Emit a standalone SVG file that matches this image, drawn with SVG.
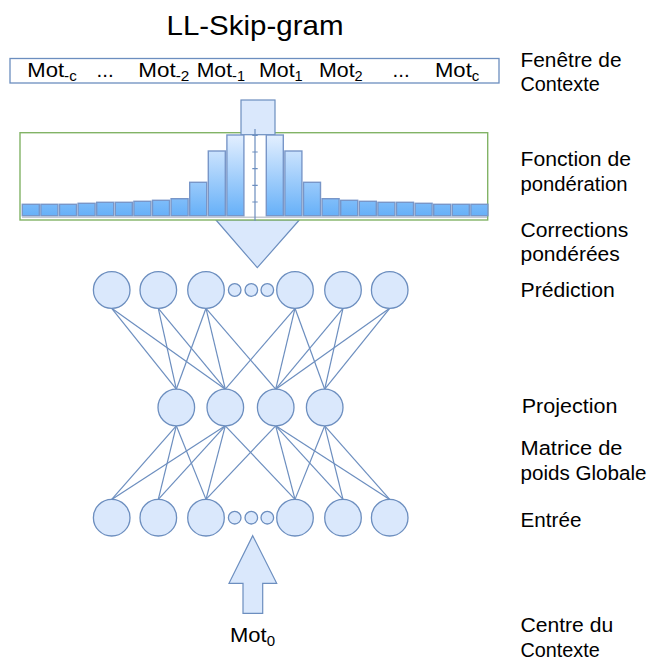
<svg xmlns="http://www.w3.org/2000/svg" width="652" height="660" viewBox="0 0 652 660">
  <style>
    text { font-family: "Liberation Sans", Arial, Helvetica, sans-serif; fill: #000; }
    .title { font-size: 28px; }
    .word { font-size: 20.5px; }
    .sub { font-size: 14px; }
    .label { font-size: 20.5px; }
    .node { fill: #dae8fc; stroke: #6c8ebf; stroke-width: 1.3; }
    .shape { fill: #dae8fc; stroke: #6c8ebf; stroke-width: 1.2; }
    .edge { stroke: #6c8ebf; stroke-width: 1.2; fill: none; }
    .bar { fill: url(#barFill); stroke: #7896c8; stroke-width: 1.4; }
    .axis { stroke: #6c8ebf; stroke-width: 1.2; fill: none; }
  </style>
  <defs>
    <linearGradient id="barFill" gradientUnits="userSpaceOnUse" x1="0" y1="135" x2="0" y2="216">
      <stop offset="0" stop-color="#e3efff"/>
      <stop offset="1" stop-color="#66b0f8"/>
    </linearGradient>
  </defs>

  <rect width="652" height="660" fill="#fff"/>

  <!-- title -->
  <text class="title" x="166.5" y="35" textLength="177" lengthAdjust="spacingAndGlyphs">LL-Skip-gram</text>

  <!-- context window -->
  <g id="context-window">
    <rect x="10" y="58.5" width="489" height="24.5" fill="#fff" stroke="#6c8ebf" stroke-width="1.3"/>
    <text class="word" x="27.3" y="76.5" textLength="49.4" lengthAdjust="spacingAndGlyphs">Mot<tspan class="sub" dy="4">-c</tspan></text>
    <text class="word" x="96.5" y="76.5">...</text>
    <text class="word" x="138.3" y="76.5" textLength="51" lengthAdjust="spacingAndGlyphs">Mot<tspan class="sub" dy="4">-2</tspan></text>
    <text class="word" x="196.7" y="76.5" textLength="48.3" lengthAdjust="spacingAndGlyphs">Mot<tspan class="sub" dy="4">-1</tspan></text>
    <text class="word" x="259" y="76.5" textLength="43.7" lengthAdjust="spacingAndGlyphs">Mot<tspan class="sub" dy="4">1</tspan></text>
    <text class="word" x="319" y="76.5" textLength="43.7" lengthAdjust="spacingAndGlyphs">Mot<tspan class="sub" dy="4">2</tspan></text>
    <text class="word" x="392.5" y="76.5">...</text>
    <text class="word" x="435" y="76.5" textLength="44.3" lengthAdjust="spacingAndGlyphs">Mot<tspan class="sub" dy="4">c</tspan></text>
  </g>

  <!-- downward arrow head below the weighting chart -->
  <polygon id="weighted-arrow" class="shape" points="216,220 299.3,220 257.3,267.7"/>

  <!-- weighting function chart -->
  <g id="weighting">
    <rect x="20" y="132.7" width="467.7" height="87.3" fill="#fff" stroke="#82b366" stroke-width="1.4"/>
    <rect id="window-stem" class="shape" x="241" y="100" width="34" height="34.7"/>
    <line x1="22" y1="217.3" x2="487" y2="217.3" stroke="#c4c9d2" stroke-width="1.6"/>
    <g>
      <rect class="bar" x="22.3" y="204.3" width="17" height="11.4"/>
      <rect class="bar" x="40.9" y="204.3" width="17" height="11.4"/>
      <rect class="bar" x="59.5" y="204.3" width="17" height="11.4"/>
      <rect class="bar" x="78.1" y="203.3" width="17" height="12.4"/>
      <rect class="bar" x="96.7" y="202.3" width="17" height="13.4"/>
      <rect class="bar" x="115.3" y="202.3" width="17" height="13.4"/>
      <rect class="bar" x="133.9" y="201.3" width="17" height="14.4"/>
      <rect class="bar" x="152.5" y="200.3" width="17" height="15.4"/>
      <rect class="bar" x="171.1" y="198.7" width="17" height="17"/>
      <rect class="bar" x="189.7" y="182.3" width="17" height="33.4"/>
      <rect class="bar" x="208.3" y="151" width="17" height="64.7"/>
      <rect class="bar" x="226.9" y="135" width="17" height="80.7"/>
      <rect class="bar" x="266.3" y="135" width="17" height="80.7"/>
      <rect class="bar" x="284.9" y="151" width="17" height="64.7"/>
      <rect class="bar" x="303.5" y="182.3" width="17" height="33.4"/>
      <rect class="bar" x="322.1" y="198.7" width="17" height="17"/>
      <rect class="bar" x="340.7" y="200.3" width="17" height="15.4"/>
      <rect class="bar" x="359.3" y="201.3" width="17" height="14.4"/>
      <rect class="bar" x="377.9" y="202.3" width="17" height="13.4"/>
      <rect class="bar" x="396.5" y="202.3" width="17" height="13.4"/>
      <rect class="bar" x="415.1" y="203.3" width="17" height="12.4"/>
      <rect class="bar" x="433.7" y="204.3" width="17" height="11.4"/>
      <rect class="bar" x="452.3" y="204.3" width="17" height="11.4"/>
      <rect class="bar" x="470.9" y="204.3" width="17" height="11.4"/>
    </g>
    <path class="axis" d="M255 129V220.7M252.3 135.3h5.4M252.3 152h5.4M252.3 168.7h5.4M252.3 185.3h5.4M252.3 202h5.4"/>
  </g>

  <!-- connectors -->
  <g id="connectors" class="edge">
    <!-- prediction layer to projection layer -->
    <line x1="111.7" y1="308.3" x2="176.3" y2="389.2"/>
    <line x1="111.7" y1="308.3" x2="225.3" y2="389.2"/>
    <line x1="158.3" y1="308.3" x2="176.3" y2="389.2"/>
    <line x1="158.3" y1="308.3" x2="225.3" y2="389.2"/>
    <line x1="206" y1="308.3" x2="176.3" y2="389.2"/>
    <line x1="206" y1="308.3" x2="225.3" y2="389.2"/>
    <line x1="206" y1="308.3" x2="275.7" y2="389.2"/>
    <line x1="295" y1="308.3" x2="225.3" y2="389.2"/>
    <line x1="295" y1="308.3" x2="275.7" y2="389.2"/>
    <line x1="295" y1="308.3" x2="324.7" y2="389.2"/>
    <line x1="343" y1="308.3" x2="275.7" y2="389.2"/>
    <line x1="343" y1="308.3" x2="324.7" y2="389.2"/>
    <line x1="389.7" y1="308.3" x2="275.7" y2="389.2"/>
    <line x1="389.7" y1="308.3" x2="324.7" y2="389.2"/>
    <!-- projection layer to input layer -->
    <line x1="176.3" y1="425.8" x2="111.7" y2="499.4"/>
    <line x1="176.3" y1="425.8" x2="158.3" y2="499.4"/>
    <line x1="176.3" y1="425.8" x2="206" y2="499.4"/>
    <line x1="225.3" y1="425.8" x2="111.7" y2="499.4"/>
    <line x1="225.3" y1="425.8" x2="158.3" y2="499.4"/>
    <line x1="225.3" y1="425.8" x2="206" y2="499.4"/>
    <line x1="225.3" y1="425.8" x2="295" y2="499.4"/>
    <line x1="275.7" y1="425.8" x2="206" y2="499.4"/>
    <line x1="275.7" y1="425.8" x2="295" y2="499.4"/>
    <line x1="275.7" y1="425.8" x2="343" y2="499.4"/>
    <line x1="275.7" y1="425.8" x2="389.7" y2="499.4"/>
    <line x1="324.7" y1="425.8" x2="295" y2="499.4"/>
    <line x1="324.7" y1="425.8" x2="343" y2="499.4"/>
    <line x1="324.7" y1="425.8" x2="389.7" y2="499.4"/>
  </g>

  <!-- prediction layer -->
  <g id="pred-1"><circle class="node" cx="111.7" cy="290" r="18.3"/></g>
  <g id="pred-2"><circle class="node" cx="158.3" cy="290" r="18.3"/></g>
  <g id="pred-3"><circle class="node" cx="206" cy="290" r="18.3"/></g>
  <g id="pred-dots">
    <circle class="node" cx="234.7" cy="290" r="6.3"/>
    <circle class="node" cx="251.3" cy="290" r="6.3"/>
    <circle class="node" cx="267.3" cy="290" r="6.3"/>
  </g>
  <g id="pred-4"><circle class="node" cx="295" cy="290" r="18.3"/></g>
  <g id="pred-5"><circle class="node" cx="343" cy="290" r="18.3"/></g>
  <g id="pred-6"><circle class="node" cx="389.7" cy="290" r="18.3"/></g>

  <!-- projection layer -->
  <g id="proj-1"><circle class="node" cx="176.3" cy="407.5" r="18.3"/></g>
  <g id="proj-2"><circle class="node" cx="225.3" cy="407.5" r="18.3"/></g>
  <g id="proj-3"><circle class="node" cx="275.7" cy="407.5" r="18.3"/></g>
  <g id="proj-4"><circle class="node" cx="324.7" cy="407.5" r="18.3"/></g>

  <!-- input layer -->
  <g id="in-1"><circle class="node" cx="111.7" cy="517.7" r="18.3"/></g>
  <g id="in-2"><circle class="node" cx="158.3" cy="517.7" r="18.3"/></g>
  <g id="in-3"><circle class="node" cx="206" cy="517.7" r="18.3"/></g>
  <g id="in-dots">
    <circle class="node" cx="234.7" cy="517.7" r="6.3"/>
    <circle class="node" cx="251.3" cy="517.7" r="6.3"/>
    <circle class="node" cx="267.3" cy="517.7" r="6.3"/>
  </g>
  <g id="in-4"><circle class="node" cx="295" cy="517.7" r="18.3"/></g>
  <g id="in-5"><circle class="node" cx="343" cy="517.7" r="18.3"/></g>
  <g id="in-6"><circle class="node" cx="389.7" cy="517.7" r="18.3"/></g>

  <!-- centre word arrow -->
  <g id="centre-word">
    <polygon class="shape" points="252.7,535.7 276.7,583.3 262.7,583.3 262.7,613.3 243,613.3 243,583.3 229,583.3"/>
    <text class="word" x="230" y="642" textLength="45" lengthAdjust="spacingAndGlyphs">Mot<tspan class="sub" dy="4">0</tspan></text>
  </g>

  <!-- row labels -->
  <g id="labels">
    <text class="label" x="520.5" y="66.5" textLength="101" lengthAdjust="spacingAndGlyphs">Fenêtre de</text>
    <text class="label" x="520.5" y="91" textLength="79.3" lengthAdjust="spacingAndGlyphs">Contexte</text>
    <text class="label" x="520.5" y="166" textLength="110.5" lengthAdjust="spacingAndGlyphs">Fonction de</text>
    <text class="label" x="520.5" y="190.5" textLength="107" lengthAdjust="spacingAndGlyphs">pondération</text>
    <text class="label" x="520.5" y="236.5" textLength="107.7" lengthAdjust="spacingAndGlyphs">Corrections</text>
    <text class="label" x="520.5" y="261" textLength="99.3" lengthAdjust="spacingAndGlyphs">pondérées</text>
    <text class="label" x="520.5" y="296.5" textLength="94.3" lengthAdjust="spacingAndGlyphs">Prédiction</text>
    <text class="label" x="521.7" y="413" textLength="95.7" lengthAdjust="spacingAndGlyphs">Projection</text>
    <text class="label" x="520.5" y="455" textLength="102" lengthAdjust="spacingAndGlyphs">Matrice de</text>
    <text class="label" x="520.5" y="479.5" textLength="126" lengthAdjust="spacingAndGlyphs">poids Globale</text>
    <text class="label" x="520.5" y="526.5" textLength="61" lengthAdjust="spacingAndGlyphs">Entrée</text>
    <text class="label" x="520.5" y="632" textLength="92.7" lengthAdjust="spacingAndGlyphs">Centre du</text>
    <text class="label" x="520.5" y="656.5" textLength="79.3" lengthAdjust="spacingAndGlyphs">Contexte</text>
  </g>
</svg>
